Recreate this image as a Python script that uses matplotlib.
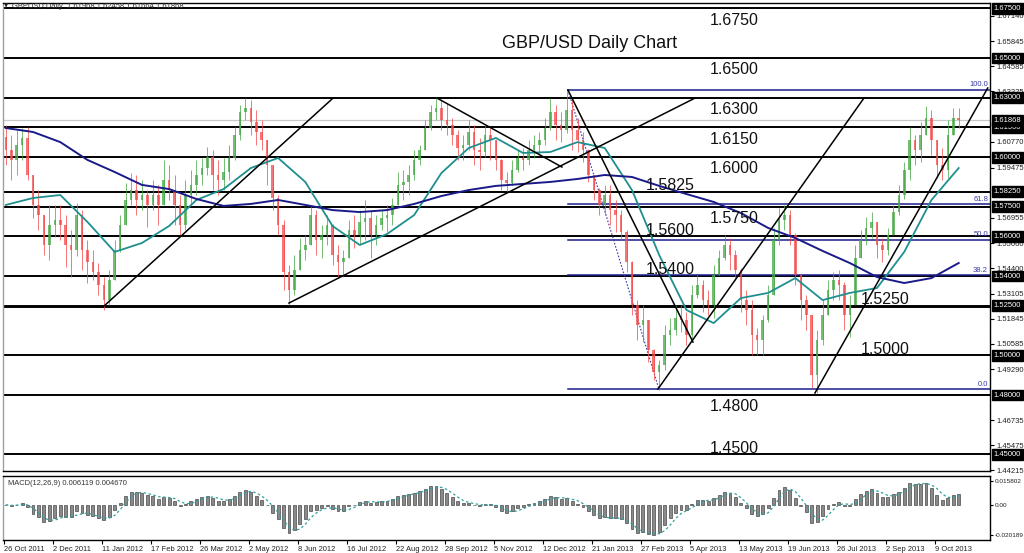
import numpy as np
import pandas as pd
import matplotlib
matplotlib.use("Agg")
import matplotlib.pyplot as plt
from matplotlib.transforms import blended_transform_factory

plt.rcParams['font.family'] = ['Liberation Sans', 'DejaVu Sans']

# GBP/USD daily, one candle per 3 trading days (open = previous close)
FIRST_OPEN = 1.6100
BARS_PER_CANDLE = 3

high = [1.6162, 1.6112, 1.6137, 1.6147, 1.6152, 1.5910, 1.5834, 1.5708, 1.5759, 1.5759,
        1.5759, 1.5708, 1.5633, 1.5769, 1.5733, 1.5582, 1.5532, 1.5466, 1.5395, 1.5431,
        1.5582, 1.5708, 1.5870, 1.5920, 1.5910, 1.5885, 1.5834, 1.5885, 1.5860, 1.5986,
        1.5960, 1.5910, 1.5809, 1.5885, 1.5935, 1.5986, 1.5996, 1.6051, 1.6036, 1.5986,
        1.5996, 1.6061, 1.6152, 1.6263, 1.6298, 1.6288, 1.6238, 1.6187, 1.6087, 1.5960,
        1.5809, 1.5683, 1.5456, 1.5506, 1.5592, 1.5607, 1.5759, 1.5733, 1.5658, 1.5708,
        1.5665, 1.5557, 1.5532, 1.5683, 1.5708, 1.5733, 1.5784, 1.5733, 1.5708, 1.5733,
        1.5759, 1.5794, 1.5925, 1.5935, 1.5960, 1.6036, 1.6061, 1.6187, 1.6263, 1.6303,
        1.6288, 1.6273, 1.6198, 1.6137, 1.6112, 1.6187, 1.6162, 1.6097, 1.6162, 1.6147,
        1.6087, 1.5990, 1.5925, 1.5986, 1.6036, 1.6046, 1.6087, 1.6112, 1.6127, 1.6198,
        1.6298, 1.6263, 1.6228, 1.6339, 1.6288, 1.6198, 1.6127, 1.6040, 1.5910, 1.5844,
        1.5860, 1.5860, 1.5784, 1.5733, 1.5630, 1.5475, 1.5279, 1.5254, 1.5178, 1.5030,
        1.4977, 1.5153, 1.5189, 1.5254, 1.5254, 1.5219, 1.5355, 1.5405, 1.5380, 1.5330,
        1.5456, 1.5532, 1.5607, 1.5592, 1.5532, 1.5440, 1.5330, 1.5279, 1.5138, 1.5204,
        1.5355, 1.5643, 1.5744, 1.5759, 1.5733, 1.5615, 1.5410, 1.5305, 1.5204, 1.5128,
        1.5279, 1.5380, 1.5421, 1.5431, 1.5370, 1.5305, 1.5557, 1.5633, 1.5698, 1.5723,
        1.5673, 1.5592, 1.5643, 1.5759, 1.5860, 1.5976, 1.6152, 1.6112, 1.6177, 1.6258,
        1.6238, 1.6087, 1.6046, 1.6187, 1.6248, 1.6248]

low = [1.5960, 1.5885, 1.5910, 1.5986, 1.5885, 1.5693, 1.5633, 1.5506, 1.5481, 1.5597,
       1.5582, 1.5446, 1.5395, 1.5500, 1.5431, 1.5365, 1.5380, 1.5305, 1.5229, 1.5254,
       1.5380, 1.5522, 1.5658, 1.5759, 1.5708, 1.5733, 1.5648, 1.5733, 1.5658, 1.5759,
       1.5784, 1.5658, 1.5607, 1.5630, 1.5759, 1.5809, 1.5860, 1.5910, 1.5834, 1.5809,
       1.5834, 1.5885, 1.5986, 1.6087, 1.6187, 1.6112, 1.6061, 1.6036, 1.5860, 1.5733,
       1.5607, 1.5330, 1.5254, 1.5305, 1.5431, 1.5481, 1.5557, 1.5506, 1.5491, 1.5557,
       1.5456, 1.5395, 1.5395, 1.5491, 1.5542, 1.5557, 1.5582, 1.5491, 1.5557, 1.5633,
       1.5622, 1.5658, 1.5759, 1.5784, 1.5809, 1.5885, 1.5960, 1.6036, 1.6137, 1.6187,
       1.6137, 1.6112, 1.6061, 1.5986, 1.5986, 1.6036, 1.5960, 1.5935, 1.6000, 1.5986,
       1.5935, 1.5834, 1.5819, 1.5860, 1.5925, 1.5935, 1.5960, 1.5996, 1.6011, 1.6061,
       1.6137, 1.6087, 1.6076, 1.6120, 1.6036, 1.6026, 1.5976, 1.5875, 1.5784, 1.5708,
       1.5708, 1.5658, 1.5622, 1.5582, 1.5421, 1.5204, 1.5078, 1.5067, 1.4967, 1.4876,
       1.4825, 1.4926, 1.5052, 1.5103, 1.5118, 1.5052, 1.5078, 1.5289, 1.5219, 1.5204,
       1.5189, 1.5405, 1.5481, 1.5431, 1.5380, 1.5219, 1.5153, 1.5002, 1.5002, 1.5002,
       1.5168, 1.5305, 1.5557, 1.5633, 1.5557, 1.5355, 1.5178, 1.5128, 1.4835, 1.4810,
       1.5052, 1.5204, 1.5279, 1.5279, 1.5128, 1.5093, 1.5254, 1.5491, 1.5557, 1.5592,
       1.5491, 1.5471, 1.5506, 1.5607, 1.5708, 1.5790, 1.5885, 1.5960, 1.5976, 1.6112,
       1.6011, 1.5895, 1.5885, 1.5895, 1.6112, 1.6147]

close = [1.6036, 1.5986, 1.6061, 1.6097, 1.5910, 1.5759, 1.5708, 1.5557, 1.5658, 1.5683,
         1.5658, 1.5557, 1.5532, 1.5708, 1.5532, 1.5471, 1.5421, 1.5355, 1.5279, 1.5380,
         1.5532, 1.5658, 1.5784, 1.5834, 1.5784, 1.5809, 1.5759, 1.5809, 1.5759, 1.5885,
         1.5834, 1.5759, 1.5658, 1.5809, 1.5860, 1.5910, 1.5945, 1.6001, 1.5910, 1.5885,
         1.5925, 1.5996, 1.6112, 1.6228, 1.6248, 1.6177, 1.6127, 1.6087, 1.5960, 1.5794,
         1.5658, 1.5421, 1.5330, 1.5431, 1.5532, 1.5557, 1.5708, 1.5582, 1.5607, 1.5658,
         1.5506, 1.5471, 1.5491, 1.5633, 1.5607, 1.5673, 1.5693, 1.5607, 1.5658, 1.5693,
         1.5708, 1.5759, 1.5860, 1.5875, 1.5910, 1.5986, 1.6036, 1.6147, 1.6228, 1.6248,
         1.6187, 1.6162, 1.6112, 1.6046, 1.6061, 1.6127, 1.6036, 1.6026, 1.6112, 1.6087,
         1.5986, 1.5885, 1.5870, 1.5935, 1.5996, 1.5986, 1.6036, 1.6061, 1.6087, 1.6147,
         1.6228, 1.6162, 1.6137, 1.6238, 1.6137, 1.6087, 1.6036, 1.5910, 1.5834, 1.5759,
         1.5809, 1.5733, 1.5708, 1.5622, 1.5471, 1.5254, 1.5153, 1.5178, 1.5027, 1.4916,
         1.4951, 1.5103, 1.5128, 1.5189, 1.5178, 1.5103, 1.5305, 1.5355, 1.5279, 1.5254,
         1.5405, 1.5491, 1.5557, 1.5506, 1.5431, 1.5279, 1.5229, 1.5103, 1.5078, 1.5178,
         1.5305, 1.5582, 1.5683, 1.5708, 1.5607, 1.5405, 1.5279, 1.5204, 1.4901, 1.5078,
         1.5204, 1.5330, 1.5380, 1.5355, 1.5204, 1.5254, 1.5491, 1.5582, 1.5643, 1.5673,
         1.5557, 1.5532, 1.5607, 1.5723, 1.5809, 1.5935, 1.6087, 1.6036, 1.6112, 1.6198,
         1.6087, 1.5960, 1.5935, 1.6112, 1.6198, 1.6187]

# moving averages, one value every 5 candles
MA_STEP = 5
ma_fast = [1.5759, 1.5794, 1.5809, 1.5673, 1.5522, 1.5567, 1.5653, 1.5784, 1.5839, 1.5945,
           1.5996, 1.5875, 1.5653, 1.5557, 1.5612, 1.5708, 1.5920, 1.6046, 1.6097, 1.6021,
           1.6026, 1.6076, 1.6046, 1.5834, 1.5506, 1.5229, 1.5163, 1.5289, 1.5315, 1.5390,
           1.5279, 1.5315, 1.5340, 1.5522, 1.5784, 1.5945]
ma_slow = [1.6147, 1.6127, 1.6076, 1.5986, 1.5925, 1.5860, 1.5839, 1.5789, 1.5754, 1.5764,
           1.5784, 1.5759, 1.5733, 1.5723, 1.5733, 1.5764, 1.5804, 1.5834, 1.5855, 1.5865,
           1.5875, 1.5890, 1.5910, 1.5900, 1.5855, 1.5814, 1.5774, 1.5718, 1.5643, 1.5592,
           1.5527, 1.5466, 1.5395, 1.5365, 1.5390, 1.5466]

levels = [1.6750, 1.6500, 1.6300, 1.6150, 1.6000, 1.5825, 1.5750,
          1.5600, 1.5400, 1.5250, 1.5000, 1.4800, 1.4500]
last_price = 1.61868
axis_ticks = [1.67140, 1.65845, 1.64585, 1.63325, 1.60770, 1.59475, 1.56955, 1.55660,
              1.54400, 1.53105, 1.51845, 1.50585, 1.49290, 1.46735, 1.45475, 1.44215]

# fibonacci retracement: Dec 2012 high to Feb 2013 low
fib_start_bar = 310.7
fib_end_bar = 360.9
fib_high = 1.6340
fib_low = 1.4828
fib_ratios = [1.0, 0.618, 0.5, 0.382, 0.0]
fib_names = ["100.0", "61.8", "50.0", "38.2", "0.0"]

# trend lines as ((bar, price), (bar, price))
trend_lines = [
    ((54.5, 1.5244), (181.3, 1.6298)),
    ((157.0, 1.5264), (380.7, 1.6298)),
    ((238.6, 1.6298), (307.4, 1.5950)),
    ((310.7, 1.6339), (379.6, 1.5067)),
    ((360.3, 1.4830), (473.8, 1.6298)),
    ((446.8, 1.4810), (542.0, 1.6349)),
]

date_labels = ["26 Oct 2011", "2 Dec 2011", "11 Jan 2012", "17 Feb 2012", "26 Mar 2012",
               "2 May 2012", "8 Jun 2012", "16 Jul 2012", "22 Aug 2012", "28 Sep 2012",
               "5 Nov 2012", "12 Dec 2012", "21 Jan 2013", "27 Feb 2013", "5 Apr 2013",
               "13 May 2013", "19 Jun 2013", "26 Jul 2013", "2 Sep 2013", "9 Oct 2013"]
BARS_PER_LABEL = 27

W, H = 1024, 553


def draw():
    fig = plt.figure(figsize=(W / 100, H / 100), dpi=100)
    fig.patch.set_facecolor("white")
    ax = fig.add_axes([3 / W, 1 - 471 / H, 987 / W, 468 / H])
    ax2 = fig.add_axes([3 / W, 1 - 540 / H, 987 / W, 64 / H])

    n = len(close)
    x = np.arange(n) * BARS_PER_CANDLE + 1
    c = np.array(close)
    o = np.r_[FIRST_OPEN, c[:-1]]
    up = c >= o
    cols = np.where(up, "#45a845", "#f24a4a")

    ax.vlines(x, low, high, colors=cols, lw=0.7, alpha=0.75, zorder=3)
    body = np.where(np.abs(c - o) < 0.0003, 0.0003, c - o)
    ax.bar(x, body, bottom=o, width=1.4, color=cols, alpha=0.75, lw=0, zorder=3)

    # moving averages
    xm = np.arange(len(ma_fast)) * MA_STEP * BARS_PER_CANDLE + 1
    ax.plot(xm, ma_fast, color="#1f8f8f", lw=1.3, zorder=4)
    ax.plot(xm, ma_slow, color="#1a1a8a", lw=1.4, zorder=4)

    # horizontal levels
    for lv in levels:
        ax.axhline(lv, color="black", lw=2.1 if lv == 1.5250 else 1.4, zorder=2)
    ax.axhline(last_price, color="#c8c8c8", lw=0.9, zorder=1)

    # fibonacci
    for r, name in zip(fib_ratios, fib_names):
        v = fib_low + r * (fib_high - fib_low)
        ax.plot([fib_start_bar, 545], [v, v], color="#1c1c8c", lw=1.1, zorder=2)
        ax.annotate(name, (0.998, v), xycoords=("axes fraction", "data"),
                    xytext=(0, 1), textcoords="offset points",
                    ha="right", va="bottom", fontsize=5.5, color="#3a3aa8")
    ax.plot([fib_start_bar, fib_end_bar], [fib_high, fib_low], color="#3a3aa8",
            lw=0.8, ls=(0, (1.5, 1.5)), zorder=2)

    for (x0, y0), (x1, y1) in trend_lines:
        ax.plot([x0, x1], [y0, y1], color="black", lw=1.1, zorder=5)

    # level captions
    captions = [(1.6750, 389, "below"), (1.6500, 389, "below"), (1.6300, 389, "below"),
                (1.6150, 389, "below"), (1.6000, 389, "below"), (1.5825, 353.7, "above"),
                (1.5750, 389, "below"), (1.5600, 353.7, "above"), (1.5400, 353.7, "above"),
                (1.5250, 472.2, "above"), (1.5000, 472.2, "above"), (1.4800, 389, "below"),
                (1.4500, 389, "above")]
    for lv, bx, where in captions:
        if where == "below":
            ax.annotate(f"{lv:.4f}", (bx, lv), xytext=(0, -3.0), textcoords="offset points",
                        ha="left", va="top", fontsize=11.5, color="#111111", zorder=6)
        else:
            ax.annotate(f"{lv:.4f}", (bx, lv), xytext=(0, 1.2), textcoords="offset points",
                        ha="left", va="baseline", fontsize=11.5, color="#111111", zorder=6)

    fig.text(590 / W, 1 - 44 / H, "GBP/USD Daily Chart", ha="center", va="center",
             fontsize=13, color="#111111")

    ax.set_xlim(-0.55, 543.25)
    ax.set_ylim(1.44167, 1.67777)
    ax.set_xticks([])
    ax.set_yticks(axis_ticks)
    ax.set_yticklabels([f"{v:.5f}" for v in axis_ticks])
    ax.tick_params(axis="y", left=False, right=True, labelleft=False, labelright=True,
                   length=3, width=0.8, pad=2, labelsize=5.5, labelcolor="#222222")

    tr = blended_transform_factory(ax.transAxes, ax.transData)
    for v in levels + [last_price]:
        ax.text(1.004, v, f"{v:.5f}", transform=tr, ha="left", va="center",
                fontsize=5.5, color="white", clip_on=False, zorder=7,
                bbox=dict(boxstyle="square,pad=0.25", fc="black", ec="black"))

    for a in (ax, ax2):
        for s in a.spines.values():
            s.set_color("black")
            s.set_linewidth(1.0)
        a.spines["left"].set_color("#a0a0a0")

    # MACD panel (computed from the candle closes)
    s = pd.Series(close)
    macd = s.ewm(span=4.07, adjust=False).mean() - s.ewm(span=8.7, adjust=False).mean()
    signal = macd.rolling(3, min_periods=1).mean()
    ax2.bar(x, macd, width=1.6, color="#8a8a8a", edgecolor="#2a2a2a", lw=0.4)
    ax2.plot(x, signal, color="#2fa0a0", lw=0.9, ls=(0, (2, 2)))
    ax2.set_xlim(-0.55, 543.25)
    ax2.set_ylim(-0.02352, 0.01913)
    ax2.set_yticks([0.015802, 0.0, -0.020189])
    ax2.set_yticklabels(["0.015802", "0.00", "-0.020189"])
    ax2.tick_params(axis="y", left=False, right=True, labelleft=False, labelright=True,
                    length=2.5, width=0.8, pad=1, labelsize=4.6, labelcolor="#222222")
    ticks = np.arange(len(date_labels)) * BARS_PER_LABEL
    ax2.set_xticks(ticks)
    ax2.set_xticklabels(date_labels, ha="left")
    ax2.tick_params(axis="x", length=3, width=0.8, pad=1.5, labelsize=5.4,
                    labelcolor="#222222")
    ax2.text(0.005, 0.93, "MACD(12,26,9) 0.006119 0.004670", transform=ax2.transAxes,
             ha="left", va="top", fontsize=5.4, color="#333333")

    # header line
    fig.text(4 / W, 1 - 6 / H, "\u25bc", ha="left", va="center", fontsize=4,
             family="DejaVu Sans", color="#222222")
    fig.text(12 / W, 1 - 6 / H, "GBPUSD,Daily  1.61968 1.62458 1.61664 1.61868",
             ha="left", va="center", fontsize=5.4, color="#333333")

    fig.savefig("out.png", dpi=100)


if __name__ == "__main__":
    draw()
